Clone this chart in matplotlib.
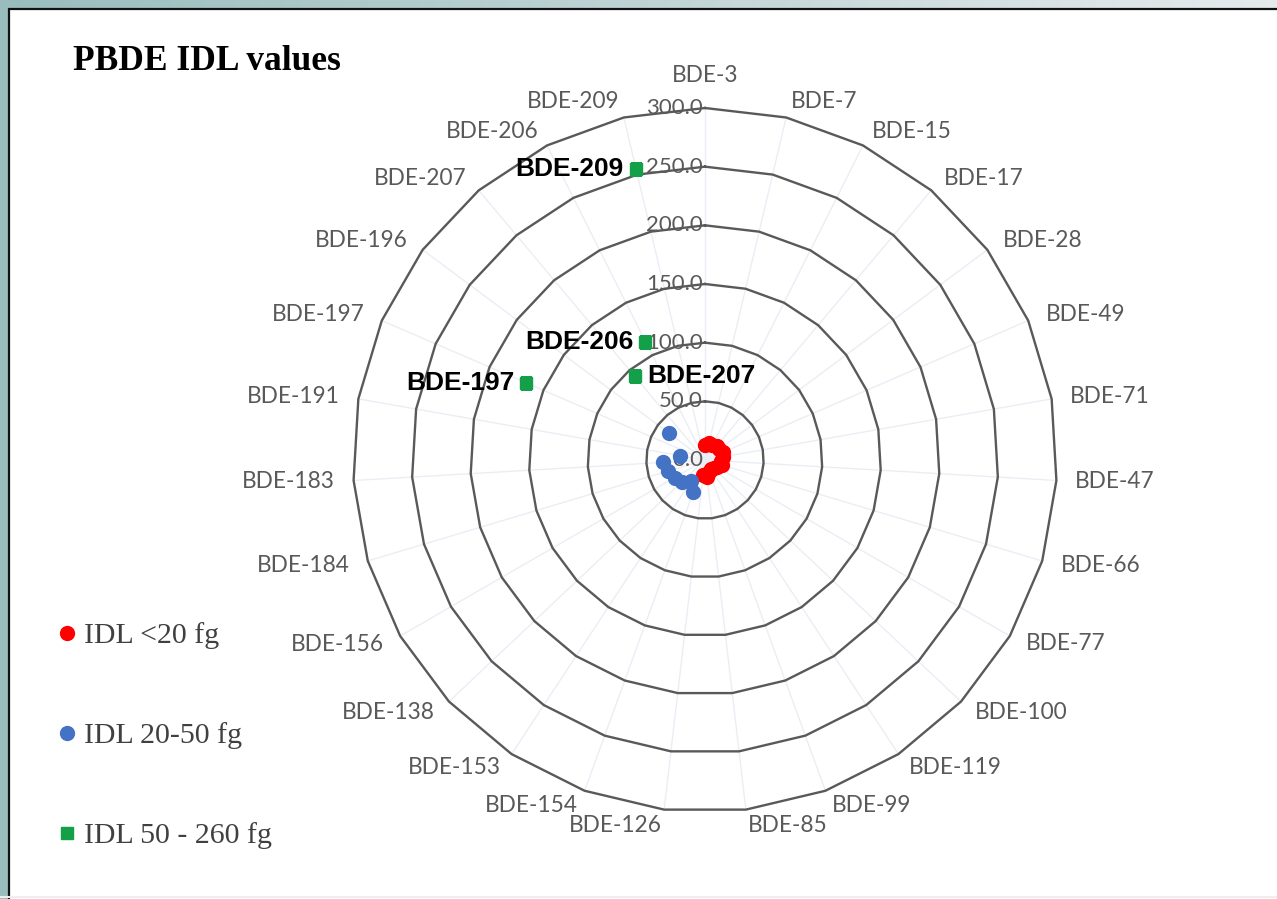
"""
PBDE IDL values - radar chart of instrument detection limits per congener.
"""

import numpy as np
import matplotlib.pyplot as plt
from matplotlib.patches import Rectangle

# Congeners in clockwise order from the top spoke
CATEGORIES = [
    "BDE-3", "BDE-7", "BDE-15", "BDE-17", "BDE-28", "BDE-49", "BDE-71",
    "BDE-47", "BDE-66", "BDE-77", "BDE-100", "BDE-119", "BDE-99", "BDE-85",
    "BDE-126", "BDE-154", "BDE-153", "BDE-138", "BDE-156", "BDE-184",
    "BDE-183", "BDE-191", "BDE-197", "BDE-196", "BDE-207", "BDE-206",
    "BDE-209",
]

# IDL < 20 fg
LOW_NAMES = [
    "BDE-3", "BDE-7", "BDE-15", "BDE-17", "BDE-28", "BDE-49", "BDE-71",
    "BDE-47", "BDE-66", "BDE-77", "BDE-100", "BDE-119", "BDE-99", "BDE-85",
    "BDE-126",
]
LOW_VALUES = [13, 15, 14, 16, 15, 17, 16, 14, 15, 12, 10, 9, 11, 15, 13]

# IDL 20-50 fg
MID_NAMES = [
    "BDE-154", "BDE-153", "BDE-138", "BDE-156", "BDE-184", "BDE-183",
    "BDE-191", "BDE-196",
]
MID_VALUES = [29, 21, 27, 30, 33, 36, 22, 38]

# IDL 50 - 260 fg
HIGH_NAMES = ["BDE-197", "BDE-207", "BDE-206", "BDE-209"]
HIGH_VALUES = [166, 93, 113, 255]

RING_LEVELS = [0, 50, 100, 150, 200, 250, 300]

LEGEND_LABELS = ["IDL <20 fg", "IDL 20-50 fg", "IDL 50 - 260 fg"]
TITLE = "PBDE IDL values"

W, H = 1277, 899
CX, CY, R = 705, 460, 352

GRAY = "#595959"

fig = plt.figure(figsize=(W / 100, H / 100), dpi=100)

# background strip + white slide panel (open at right and bottom)
bg = fig.add_axes([0, 0, 1, 1], zorder=-10)
grad = np.linspace(0, 1, 256)[None, :]
bg.imshow(
    np.dstack([
        0.60 + 0.30 * grad, 0.74 + 0.18 * grad, 0.74 + 0.19 * grad,
    ]),
    extent=[0, W, H, 0], aspect="auto",
)
bg.add_patch(Rectangle((9, 9), W + 20, H + 20, facecolor="white",
                       edgecolor="#111111", linewidth=1.6))
bg.axhline(H - 2.5, color="#eeeeee", linewidth=1.5)
bg.set_xlim(0, W)
bg.set_ylim(H, 0)
bg.axis("off")

ax = fig.add_axes(
    [(CX - R) / W, (H - CY - R) / H, 2 * R / W, 2 * R / H],
    projection="polar",
)
ax.set_theta_zero_location("N")
ax.set_theta_direction(-1)
ax.set_ylim(0, 300)
ax.grid(False)
ax.set_xticks([])
ax.set_yticks([])
ax.spines["polar"].set_visible(False)
ax.patch.set_alpha(0)

n = len(CATEGORIES)
thetas = np.arange(n) * 2 * np.pi / n
theta_of = dict(zip(CATEGORIES, thetas))
closed = np.append(thetas, thetas[0])

# faint spokes
for th in thetas:
    ax.plot([th, th], [0, 300], color="#eaeef4", linewidth=1, zorder=1)

# polygon gridlines
for lvl in RING_LEVELS[1:]:
    ax.plot(closed, [lvl] * len(closed), color=GRAY, linewidth=1.7,
            zorder=2, clip_on=False)

# value labels along the top spoke
for lvl in RING_LEVELS:
    ax.annotate(f"{lvl:.1f}", xy=(0, lvl), xytext=(-2, 0),
                textcoords="offset pixels", ha="right", va="center",
                fontsize=16, family="Lato", color=GRAY, zorder=1)

# category labels outside the outer ring
for name, th in zip(CATEGORIES, thetas):
    s, c = np.sin(th), np.cos(th)
    if abs(s) < 0.01:
        ha, off = "center", (0, 33)
    else:
        ha = "left" if s > 0 else "right"
        off = (19 * s, 16 * c)
    ax.annotate(name, xy=(th, 300), xytext=off, textcoords="offset pixels",
                ha=ha, va="center", fontsize=16.3, family="Lato", color=GRAY,
                annotation_clip=False)

low = ax.plot([theta_of[k] for k in LOW_NAMES], LOW_VALUES, "o",
              color="#ff0000", markersize=10, linestyle="none",
              zorder=5, label=LEGEND_LABELS[0])[0]
mid = ax.plot([theta_of[k] for k in MID_NAMES], MID_VALUES, "o",
              color="#4472c4", markersize=10, linestyle="none",
              zorder=5, label=LEGEND_LABELS[1])[0]
high = ax.plot([theta_of[k] for k in HIGH_NAMES], HIGH_VALUES, "s",
               color="#13a048", markersize=9, linestyle="none",
               zorder=5, label=LEGEND_LABELS[2])[0]

# bold data labels for the high-IDL congeners
for name, val in zip(HIGH_NAMES, HIGH_VALUES):
    right = name == "BDE-207"
    ax.annotate(name, xy=(theta_of[name], val),
                xytext=(12 if right else -12, 0), textcoords="offset pixels",
                ha="left" if right else "right", va="center",
                fontsize=19, fontweight="bold", family="Liberation Sans",
                color="black", zorder=6)

fig.text(73 / W, 1 - 61 / H, TITLE, ha="left", va="center",
         fontsize=25.5, fontweight="bold", family="Liberation Serif",
         color="black")

fig.legend(
    handles=[low, mid, high],
    loc="upper left",
    bbox_to_anchor=(60 / W, 1 - 622 / H),
    frameon=False,
    prop={"family": "Liberation Serif", "size": 21.5},
    labelcolor="#404040",
    labelspacing=2.45,
    handlelength=0.45,
    handletextpad=0.35,
    borderpad=0,
    borderaxespad=0,
)

fig.savefig("out.png", dpi=100)
